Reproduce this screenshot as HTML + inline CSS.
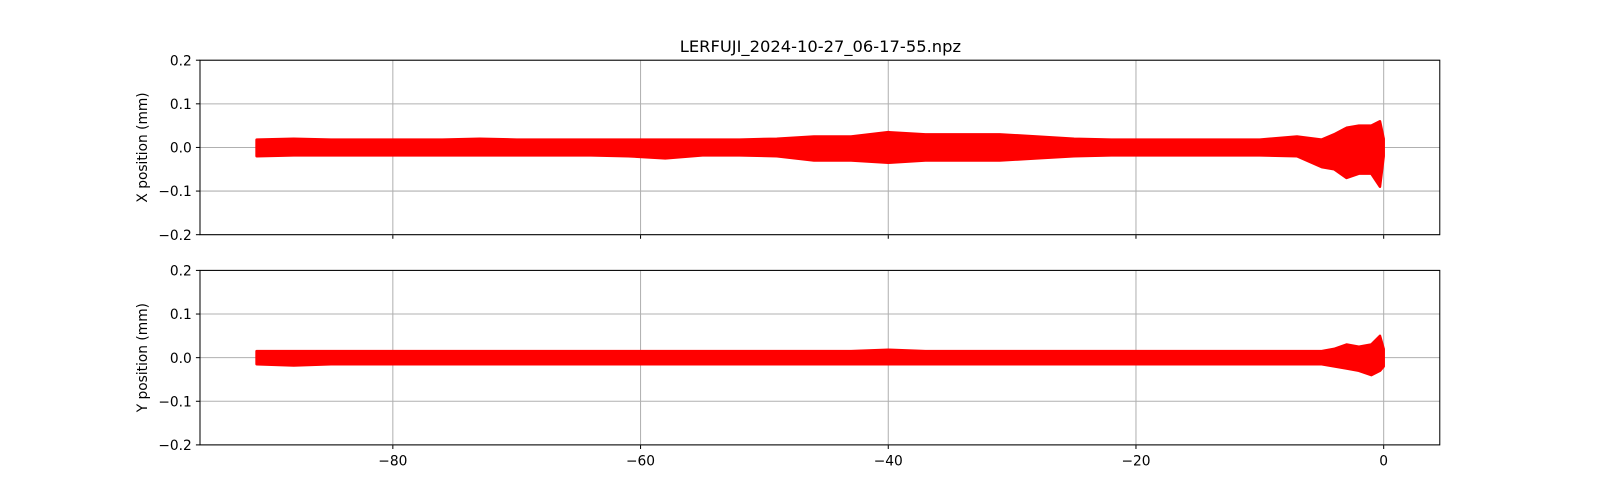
<!DOCTYPE html>
<html><head><meta charset="utf-8"><style>
html,body{margin:0;padding:0;background:#fff;overflow:hidden;width:1600px;height:500px;font-family:"Liberation Sans","DejaVu Sans",sans-serif}
svg{display:block}
</style></head><body>
<svg id="chart" width="1600" height="500" xmlns="http://www.w3.org/2000/svg" font-family="DejaVu Sans, Liberation Sans, sans-serif">
<rect width="1600" height="500" fill="#fff"/>
<g transform="scale(1.0204)">
<text x="804" y="51" font-size="16" text-anchor="middle">LERFUJI_2024-10-27_06-17-55.npz</text>
<g id="top"></g>
<g id="bot"></g>
</g>
</svg>
<script>
const times=[-91,-88,-85,-82,-79,-76,-73,-70,-67,-64,-61,-58,-55,-52,-49,-46,-43,-40,-37,-34,-31,-28,-25,-22,-19,-16,-13,-10,-7,-5,-4,-3,-2,-1,-0.3,0];
const xUpper=[0.018,0.02,0.018,0.018,0.018,0.018,0.02,0.018,0.018,0.018,0.018,0.018,0.018,0.018,0.02,0.025,0.025,0.035,0.03,0.03,0.03,0.025,0.02,0.018,0.018,0.018,0.018,0.018,0.025,0.018,0.03,0.045,0.05,0.05,0.06,0.02];
const xLower=[-0.02,-0.018,-0.018,-0.018,-0.018,-0.018,-0.018,-0.018,-0.018,-0.018,-0.02,-0.025,-0.018,-0.018,-0.02,-0.03,-0.03,-0.035,-0.03,-0.03,-0.03,-0.025,-0.02,-0.018,-0.018,-0.018,-0.018,-0.018,-0.02,-0.045,-0.05,-0.07,-0.06,-0.06,-0.09,-0.02];
const yUpper=[0.015,0.015,0.015,0.015,0.015,0.015,0.015,0.015,0.015,0.015,0.015,0.015,0.015,0.015,0.015,0.015,0.015,0.018,0.015,0.015,0.015,0.015,0.015,0.015,0.015,0.015,0.015,0.015,0.015,0.015,0.02,0.03,0.025,0.03,0.05,0.02];
const yLower=[-0.015,-0.018,-0.015,-0.015,-0.015,-0.015,-0.015,-0.015,-0.015,-0.015,-0.015,-0.015,-0.015,-0.015,-0.015,-0.015,-0.015,-0.015,-0.015,-0.015,-0.015,-0.015,-0.015,-0.015,-0.015,-0.015,-0.015,-0.015,-0.015,-0.015,-0.02,-0.025,-0.03,-0.04,-0.03,-0.02];
const xTicks=[-80,-60,-40,-20,0];
const yTicks=[0.2,0.1,0.0,-0.1,-0.2];
const yTickLabels=["0.2","0.1","0.0","\u22120.1","\u22120.2"];
const xTickLabels=["\u221280","\u221260","\u221240","\u221220","0"];
const NS="http://www.w3.org/2000/svg";
const L=196,R=1411,X0=-95.57,X1=4.53;
const sx=v=>L+(v-X0)/(X1-X0)*(R-L);
function mk(p,t,a){const e=document.createElementNS(NS,t);for(const k in a)e.setAttribute(k,a[k]);p.appendChild(e);return e;}
function panel(g,top,up,lo,label,showX){
  const bot=top+171;const sy=v=>top+(0.2-v)/0.4*171;
  xTicks.forEach((t,i)=>{const l=mk(g,'line',{x1:sx(t),x2:sx(t),y1:top,y2:bot,stroke:'#b0b0b0','stroke-width':1});
    
    const tk=mk(g,'line',{x1:sx(t),x2:sx(t),y1:bot,y2:bot+4,stroke:'#000'});
    
    if(showX){const tx=mk(g,'text',{x:sx(t),y:bot+20,'font-size':13.5,'text-anchor':'middle'});tx.textContent=xTickLabels[i];
      }});
  yTicks.forEach((t,i)=>{const l=mk(g,'line',{x1:L,x2:R,y1:sy(t),y2:sy(t),stroke:'#b0b0b0','stroke-width':1});
    
    mk(g,'line',{x1:L-4,x2:L,y1:sy(t),y2:sy(t),stroke:'#000'});
    const tx=mk(g,'text',{x:L-8,y:sy(t)+5,'font-size':13.5,'text-anchor':'end'});tx.textContent=yTickLabels[i];
    });
  let d='M'+times.map((t,i)=>sx(t)+','+sy(up[i])).join('L');
  for(let i=times.length-1;i>=0;i--)d+='L'+sx(times[i])+','+sy(lo[i]);
  const p=mk(g,'path',{d:d+'Z',fill:'#ff0000',stroke:'#ff0000','stroke-width':2.5,'stroke-linejoin':'round'});
  
  const f=mk(g,'rect',{x:L,y:top,width:R-L,height:171,fill:'none',stroke:'#000'});
  
  const yl=mk(g,'text',{x:0,y:0,'font-size':13.5,'text-anchor':'middle',transform:`translate(144,${top+85.5}) rotate(-90)`});
  yl.textContent=label;
}
panel(document.getElementById('top'),59,xUpper,xLower,'X position (mm)',false);
panel(document.getElementById('bot'),265,yUpper,yLower,'Y position (mm)',true);
</script>
</body></html>
